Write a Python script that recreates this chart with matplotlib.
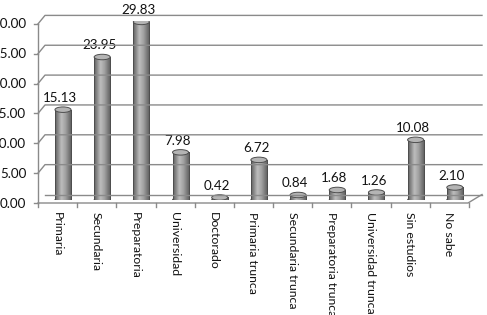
import numpy as np
import matplotlib
matplotlib.use("Agg")
import matplotlib.pyplot as plt
from matplotlib.patches import Ellipse
from matplotlib.lines import Line2D
from matplotlib.colors import LinearSegmentedColormap
import matplotlib.transforms as mtransforms

categories = ["Primaria", "Secundaria", "Preparatoria", "Universidad", "Doctorado",
              "Primaria trunca", "Secundaria trunca", "Preparatoria trunca",
              "Universidad trunca", "Sin estudios", "No sabe"]
values = [15.13, 23.95, 29.83, 7.98, 0.42, 6.72, 0.84, 1.68, 1.26, 10.08, 2.10]
yticks = [0, 5, 10, 15, 20, 25, 30]

plt.rcParams['font.family'] = ['Lato', 'DejaVu Sans']
W, H, DPI = 487, 315, 100
fig = plt.figure(figsize=(W / DPI, H / DPI), dpi=DPI)
fig.patch.set_facecolor('white')

ax_left, ax_width = 43.4, 431.0
y0_px, y30_px = 200.0, 20.9
ax = fig.add_axes([ax_left / W, (H - y0_px) / H, ax_width / W, (y0_px - y30_px) / H])
n = len(categories)
ax.set_xlim(-0.5, n - 0.5)
ax.set_ylim(0, 30)
ax.axis('off')

def disp(xd, yd):
    return ax.transData.transform((xd, yd))

grid_col = '#8a8a8a'
front_x = 38.0
back_x = 45.0
right_x = 482.0
FS = 9.6
FSX = 8.8
TXT = '#111111'

def add_line(xs_px, ys_disp, color=grid_col, lw=1.0):
    fig.add_artist(Line2D(xs_px, ys_disp, color=color, lw=lw, transform=None))

ylab_tr = (mtransforms.blended_transform_factory(fig.dpi_scale_trans, ax.transData)
           + mtransforms.ScaledTranslation(0, -3.5 / DPI, fig.dpi_scale_trans))
for v in yticks:
    ymid = disp(0, v)[1]
    yfront = ymid - 3
    yback = ymid + 5.5
    if v == 0:
        add_line([back_x, right_x], [yback, yback])
    else:
        add_line([front_x, back_x, right_x], [yfront, yback, yback])
    add_line([front_x - 4, front_x], [yfront, yfront])
    fig.text(26.5 / DPI, v, f"{v:.2f}", transform=ylab_tr, ha='right', va='center',
             fontsize=FS, color=TXT)

yf0 = disp(0, 0)[1] - 3
yf30 = disp(0, 30)[1] - 3
add_line([front_x, front_x], [yf0, yf30])
add_line([front_x, 468, right_x], [yf0, yf0, disp(0, 0)[1] + 5.5])
step = ax_width / n
for k in range(n + 1):
    xx = front_x + step * k
    add_line([xx, xx], [yf0, yf0 - 4])

cmap = LinearSegmentedColormap.from_list('cyl', [(0, '#5e5e5e'), (0.38, '#bdbdbd'),
                                                  (0.62, '#a2a2a2'), (1, '#5a5a5a')])
grad = np.linspace(0, 1, 64).reshape(1, -1)
bw = 0.41
px_per_unit = (y0_px - y30_px) / 30
eh = 5.5 / px_per_unit
edge = '#4e4e4e'
for i, v in enumerate(values):
    x0 = i - bw / 2
    be = Ellipse((i, 0), bw, eh, facecolor='none', edgecolor=edge, lw=0.7, zorder=2)
    ax.add_patch(be)
    im = ax.imshow(grad, extent=(x0, x0 + bw, -eh / 2, eh / 2), cmap=cmap, aspect='auto',
                   zorder=1.5, interpolation='bilinear')
    im.set_clip_path(be)
    bars = ax.bar([i], [v], width=bw, color='none', edgecolor='none', zorder=3)
    rect = bars.patches[0]
    im2 = ax.imshow(grad, extent=(x0, x0 + bw, 0, v), cmap=cmap, aspect='auto',
                    zorder=2.5, interpolation='bilinear')
    im2.set_clip_path(rect)
    ax.plot([x0, x0], [0, v], color=edge, lw=0.7, zorder=3)
    ax.plot([x0 + bw, x0 + bw], [0, v], color=edge, lw=0.7, zorder=3)
    te = Ellipse((i, v), bw, eh, facecolor='#b4b4b4', edgecolor=edge, lw=0.7, zorder=4)
    ax.add_patch(te)
    ax.annotate(f"{v:.2f}", (i, v), xytext=(-2, 8.5), textcoords='offset points',
                ha='center', va='center', fontsize=FS, color=TXT,
                annotation_clip=False)

for i, c in enumerate(categories):
    ax.annotate(c, (i, 0), xytext=(-4.3, -8.5), textcoords='offset points',
                rotation=270, ha='center', va='top', fontsize=FSX, color=TXT,
                annotation_clip=False)

fig.savefig('out.png', dpi=DPI)
